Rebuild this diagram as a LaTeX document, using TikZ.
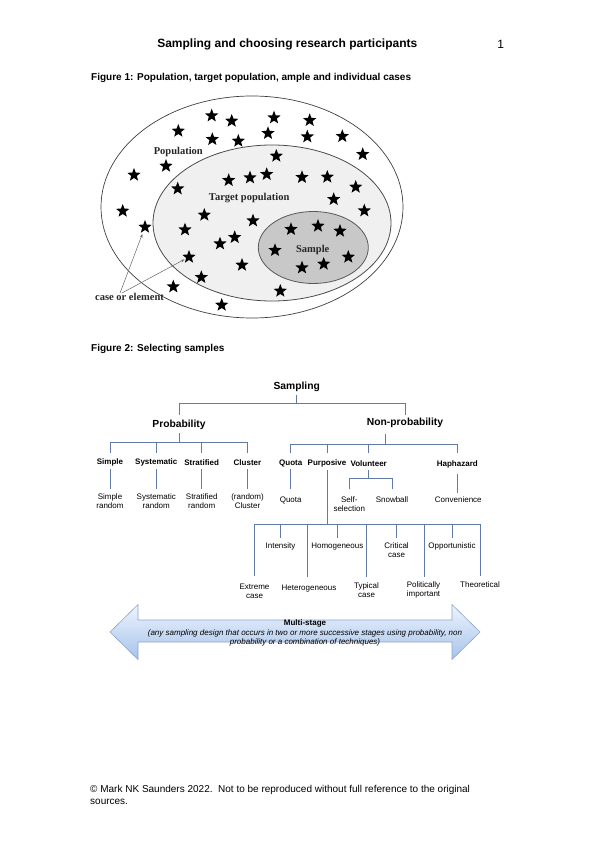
\documentclass[tikz,border=0pt]{standalone}
\usepackage{fontspec}
\setmainfont{Liberation Sans}
\newfontfamily\tnr{Liberation Serif}
\usetikzlibrary{shapes.geometric,arrows.meta}
\definecolor{treeblue}{RGB}{96,124,166}
\definecolor{arrowtop}{RGB}{238,244,253}
\definecolor{arrowbot}{RGB}{166,195,235}
\definecolor{arrowline}{RGB}{140,165,205}
\definecolor{tpopfill}{RGB}{240,240,240}
\definecolor{sampfill}{RGB}{200,200,200}
\begin{document}
\begin{tikzpicture}[x=1pt,y=-1pt,
  every node/.style={inner sep=0pt},
  starn/.style={star,star points=5,star point ratio=2.35,fill=black,minimum size=14pt,inner sep=0pt},
  elbl/.style={font=\tnr\bfseries\fontsize{10.5}{12}\selectfont,text=black!85},
  tree/.style={draw=treeblue,line width=0.9pt},
  head/.style={font=\bfseries\fontsize{10.3}{12}\selectfont},
  sub/.style={font=\bfseries\fontsize{8}{9.5}\selectfont},
  leaf/.style={font=\fontsize{8}{9.4}\selectfont,align=center},
  figcap/.style={font=\bfseries\fontsize{10}{12}\selectfont,anchor=west},
  carrow/.style={draw=black!60,line width=0.5pt,-{Stealth[length=3.5pt,width=2.5pt]}},
]
\fill[white] (0,0) rectangle (595,842);
\useasboundingbox (0,0) rectangle (595,842);

% header
\node[font=\bfseries\fontsize{12}{14}\selectfont] (title) at (287.3,44) {Sampling and choosing research participants};
\node[font=\fontsize{12}{14}\selectfont] (pnum) at (500.7,44) {1};
\node[figcap] (cap1) at (91,77.5) {Figure 1: Population, target population, ample and individual cases};
\node[figcap] (cap2) at (91,348.5) {Figure 2: Selecting samples};
\node[font=\fontsize{10}{11.5}\selectfont,align=left,anchor=west] (foot) at (90,795)
  {\textcopyright{} Mark NK Saunders 2022.\ \ Not to be reproduced without full reference to the original\\sources.};

% Figure 1
\draw[draw=black!75,line width=0.7pt] (252,207) ellipse [x radius=151pt, y radius=111pt];
\draw[draw=black!70,line width=0.8pt,fill=tpopfill] (272,223) ellipse [x radius=119pt, y radius=78pt];
\draw[draw=black!65,line width=0.8pt,fill=sampfill] (313.3,247.5) ellipse [x radius=55pt, y radius=36pt];

\foreach \p [count=\i] in {
 {211.7,115.7},{231.7,121},{274,117.7},{309.7,120.3},{178.3,131},{212.3,139.3},{238.3,141},
 {268,133.3},{307.3,136.7},{342.3,136.3},{362.7,154.3},{276.3,156},{166,166},{134,175},
 {177.7,188.7},{228.7,180.3},{250,177.7},{266.7,174.3},{302,177.3},{327.3,177},{355.7,187},
 {333.7,199.3},{364.3,210.7},{122.7,211},{204.3,215},{253,220.7},{145,227},{185,229.7},
 {234.7,237.3},{220,243.7},{291,229.3},{318,226},{340,231},{275,250.3},{189,257},{242,265},
 {302,267.7},{323.7,264},{348.3,257},{201.3,277.3},{173.3,286.7},{280.3,291},{221.7,305}}
  \node[starn] (s\i) at (\p) {};

\node[elbl] (poplbl) at (178.3,151.7) {Population};
\node[elbl] (tpoplbl) at (249.2,197.7) {Target population};
\node[elbl] (samplbl) at (312.7,250) {Sample};
\node[elbl] (case) at (129.5,297) {case or element};
\draw[carrow,shorten >=3pt] ([xshift=-9.5pt]case.north) -- (s27);
\draw[carrow,shorten >=1.5pt] ([xshift=-7.8pt]case.north) -- (s35);

% Figure 2 tree
\node[head] (samp) at (296.7,387.3) {Sampling};
\node[head] (prob) at (179,425) {Probability};
\node[head] (nonp) at (405,422.7) {Non-probability};

\node[sub] (simple) at (110,462.3) {Simple};
\node[sub] (syst) at (156.3,462.3) {Systematic};
\node[sub] (strat) at (201.7,462.3) {Stratified};
\node[sub] (clus) at (247.5,462.3) {Cluster};
\node[leaf] (simr) at (110,501.3) {Simple\\random};
\node[leaf] (systr) at (156.3,501.3) {Systematic\\random};
\node[leaf] (stratr) at (201.7,501.3) {Stratified\\random};
\node[leaf] (clusr) at (247.5,501.3) {(random)\\Cluster};

\node[sub] (quota) at (290.7,463.3) {Quota};
\node[sub] (purp) at (327,463.3) {Purposive};
\node[sub] (vol) at (368.7,463.3) {Volunteer};
\node[sub] (hap) at (457.3,464.3) {Haphazard};
\node[leaf] (quotar) at (290.7,500) {Quota};
\node[leaf] (self) at (349.3,504.2) {Self-\\selection};
\node[leaf] (snow) at (392,500) {Snowball};
\node[leaf] (conv) at (458.3,500) {Convenience};

\node[leaf] (ext) at (254.5,591) {Extreme\\case};
\node[leaf] (inten) at (280.5,546.7) {Intensity};
\node[leaf] (het) at (309,588.3) {Heterogeneous};
\node[leaf] (hom) at (337.3,546.7) {Homogeneous};
\node[leaf] (typ) at (366.5,590) {Typical\\case};
\node[leaf] (crit) at (396.5,550.3) {Critical\\case};
\node[leaf] (pol) at (423.5,590) {Politically\\important};
\node[leaf] (opp) at (452,546) {Opportunistic};
\node[leaf] (theo) at (480,585) {Theoretical};

% connectors
\draw[tree] (samp |- 0,395) -- (samp |- 0,403.5);
\draw[tree] (prob |- 0,415) |- (nonp |- 0,403.5) -- (nonp |- 0,415);

\draw[tree] (prob |- 0,433.3) -- (prob |- 0,442.7);
\draw[tree] (simple |- 0,452.7) |- (clus |- 0,442.7) -- (clus |- 0,452.7);
\draw[tree] (syst |- 0,442.7) -- (syst |- 0,452.7);
\draw[tree] (strat |- 0,442.7) -- (strat |- 0,452.7);
\foreach \a in {simple,syst,strat,clus}
  \draw[tree] (\a |- 0,469.3) -- (\a |- 0,489.3);

\draw[tree] (385,434) -- (385,444);
\draw[tree] (quota |- 0,453.3) |- (hap |- 0,444) -- (hap |- 0,453.3);
\draw[tree] (purp |- 0,444) -- (purp |- 0,453.3);
\draw[tree] (vol |- 0,444) -- (vol |- 0,453.3);
\draw[tree] (quota |- 0,469) -- (quotar |- 0,489);
\draw[tree] (vol |- 0,470) -- (vol |- 0,478.3);
\draw[tree] (self |- 0,489.3) |- (snow |- 0,478.3) -- (snow |- 0,489.3);
\draw[tree] (hap |- 0,474) -- (hap |- 0,493);

\draw[tree] (purp |- 0,470) -- (purp |- 0,524.5);
\draw[tree] (254,576) |- (theo |- 0,524.5) -- (theo |- 0,576);
\draw[tree] (307,524.5) -- (307,577);
\draw[tree] (typ |- 0,524.5) -- (typ |- 0,577);
\draw[tree] (424,524.5) -- (424,577);
\foreach \a in {inten,hom,crit,opp}
  \draw[tree] (\a |- 0,524.5) -- (\a |- 0,538);

% multi-stage arrow
\shadedraw[top color=arrowtop,bottom color=arrowbot,draw=arrowline,line width=0.6pt]
  (110,632) -- (138,604.5) -- (138,620) -- (452,620) -- (452,604.5) -- (480,632)
  -- (452,659.5) -- (452,642) -- (138,642) -- (138,659.5) -- cycle;
\node[font=\fontsize{8}{9.7}\selectfont,align=center] (multi) at (305,633)
  {\textbf{Multi-stage}\\
   \textit{(any sampling design that occurs in two or more successive stages using probability, non}\\
   \textit{probability or a combination of techniques)}};
\end{tikzpicture}
\end{document}
